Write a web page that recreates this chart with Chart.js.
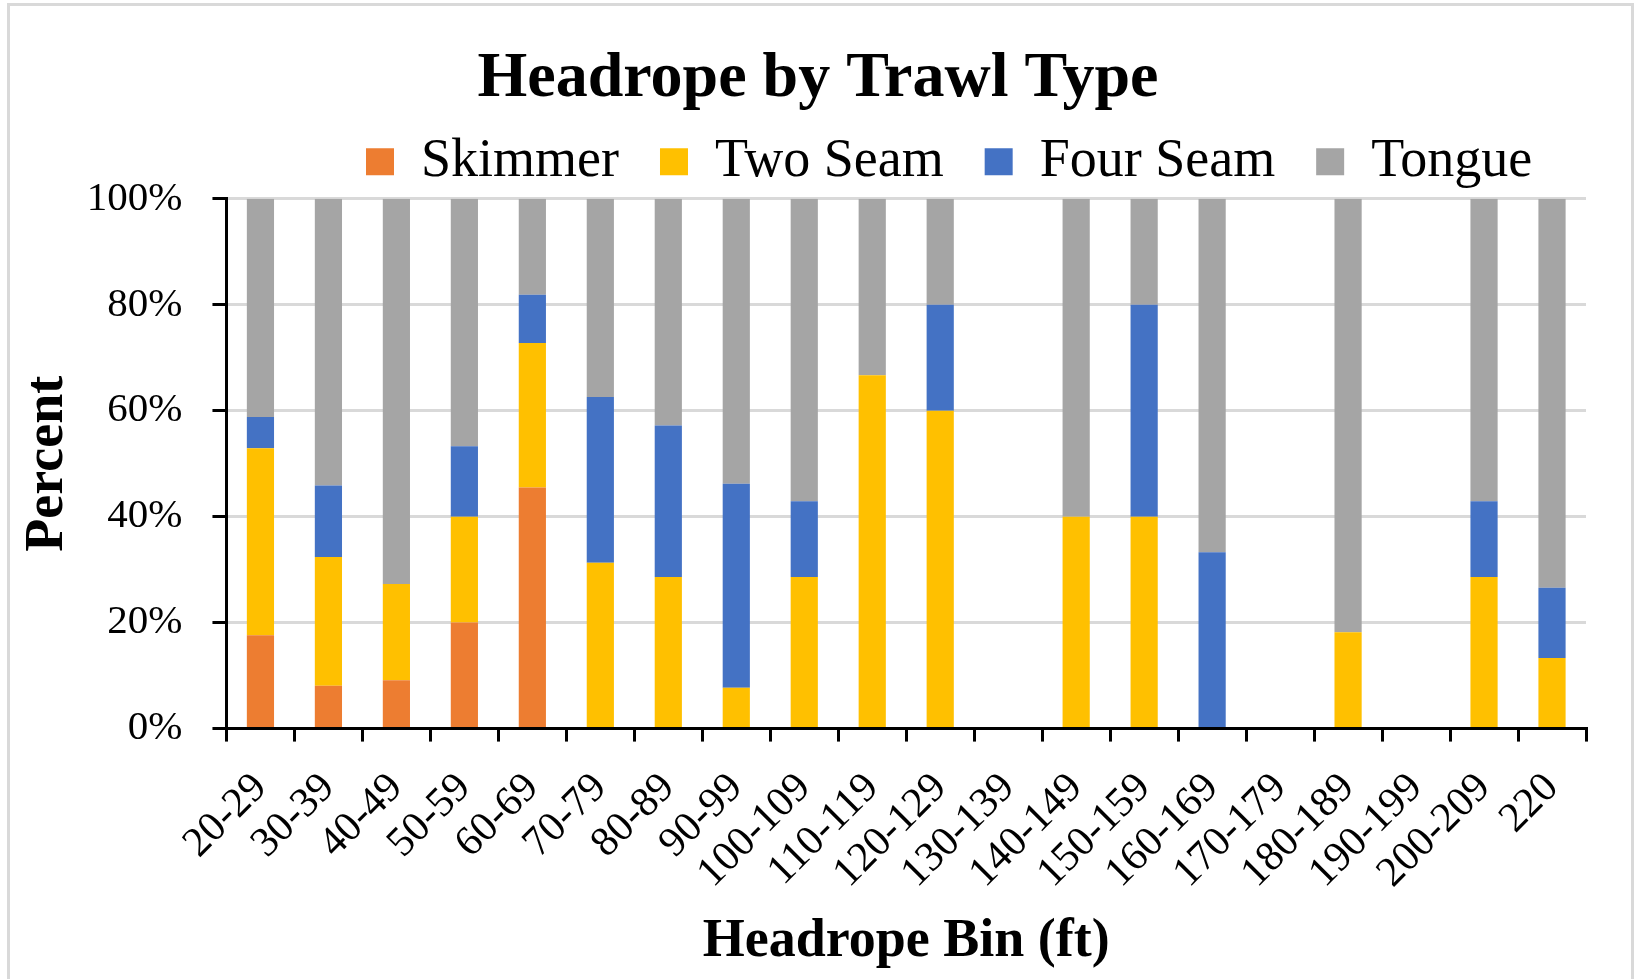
<!DOCTYPE html>
<html>
<head>
<meta charset="utf-8">
<title>Headrope by Trawl Type</title>
<script src="https://cdn.jsdelivr.net/npm/chart.js@4.4.1/dist/chart.umd.min.js"></script>
<style>
  html, body { margin: 0; padding: 0; background: #fff; }
  #frame {
    position: absolute; left: 7px; top: 3px;
    width: 1621px; height: 1000px;
    border: 3px solid #d9d9d9;
  }
  #wrap { position: absolute; left: 0; top: 0; width: 1636px; height: 979px; }
</style>
</head>
<body>
<div id="frame"></div>
<div id="wrap"><canvas id="bar-chart"></canvas></div>
<script>
// stacked 100% bar chart

var bins = ['20-29', '30-39', '40-49', '50-59', '60-69', '70-79', '80-89', '90-99', '100-109', '110-119',
            '120-129', '130-139', '140-149', '150-159', '160-169', '170-179', '180-189', '190-199', '200-209', '220'];

// percent of tows in each bin
var skimmer  = [17.6, 8.1, 9.1, 20, 45.5, 0, 0, 0, 0, 0, 0, 0, 0, 0, 0, 0, 0, 0, 0, 0];
var twoSeam  = [35.3, 24.3, 18.2, 20, 27.3, 31.3, 28.6, 7.7, 28.6, 66.7, 60, 0, 40, 40, 0, 0, 18.2, 0, 28.6, 13.3];
var fourSeam = [5.9, 13.5, 0, 13.3, 9.1, 31.3, 28.6, 38.5, 14.3, 0, 20, 0, 0, 40, 33.3, 0, 0, 0, 14.3, 13.3];
var tongue   = [41.2, 54.1, 72.7, 46.7, 18.1, 37.4, 42.8, 53.8, 57.1, 33.3, 20, 0, 60, 20, 66.7, 0, 81.8, 0, 57.1, 73.4];

var yTicks = [0, 20, 40, 60, 80, 100];

var serif = 'Liberation Serif, Times New Roman, serif';

// excel puts the legend right of centre, so nudge it over
var legendPlacement = {
    id: 'legendPlacement',
    afterLayout: function(chart) {
        var legend = chart.legend;
        legend.left = 366 - legend.options.labels.padding;
    }
};

var ctx = document.getElementById('bar-chart');

var myChart = new Chart(ctx, {
    type: 'bar',
    data: {
        labels: bins,
        datasets: [
            { label: 'Skimmer', data: skimmer, backgroundColor: '#ED7D31', borderWidth: 0 },
            { label: 'Two Seam', data: twoSeam, backgroundColor: '#FFC000', borderWidth: 0 },
            { label: 'Four Seam', data: fourSeam, backgroundColor: '#4472C4', borderWidth: 0 },
            { label: 'Tongue', data: tongue, backgroundColor: '#A5A5A5', borderWidth: 0 }
        ]
    },
    options: {
        responsive: true,
        maintainAspectRatio: false,
        animation: false,
        devicePixelRatio: 1,
        barPercentage: 0.4,
        categoryPercentage: 1,
        plugins: {
            title: {
                display: true,
                text: 'Headrope by Trawl Type',
                color: '#000',
                font: { family: serif, size: 64, weight: 'bold' },
                padding: { top: 41, bottom: -24 }
            },
            legend: {
                position: 'top',
                align: 'start',
                labels: {
                    color: '#000',
                    font: { family: serif, size: 54 },
                    boxWidth: 28,
                    boxHeight: 27,
                    padding: 41
                }
            },
            tooltip: { enabled: false }
        },
        scales: {
            x: {
                stacked: true,
                grid: {
                    display: true,
                    drawOnChartArea: false,
                    tickColor: '#000',
                    tickLength: 13,
                    lineWidth: 3
                },
                border: { color: '#000', width: 3 },
                ticks: {
                    color: '#000',
                    font: { family: serif, size: 42 },
                    minRotation: 45,
                    maxRotation: 45,
                    autoSkip: false,
                    padding: 22,
                    labelOffset: 0
                },
                title: {
                    display: true,
                    text: 'Headrope Bin (ft)',
                    color: '#000',
                    font: { family: serif, size: 54, weight: 'bold' },
                    padding: { top: -11, bottom: 5 }
                },
                afterFit: function(scale) {
                    scale.paddingRight = 50;
                }
            },
            y: {
                stacked: true,
                min: 0,
                max: 100,
                afterBuildTicks: function(scale) {
                    scale.ticks = yTicks.map(function(v) { return { value: v }; });
                },
                grid: {
                    color: '#d9d9d9',
                    lineWidth: 3,
                    tickColor: '#000',
                    tickWidth: 3,
                    tickLength: 14
                },
                border: { color: '#000', width: 3 },
                ticks: {
                    color: '#000',
                    font: { family: serif, size: 41 },
                    padding: 30,
                    callback: function(v) { return v + '%'; }
                },
                title: {
                    display: true,
                    text: 'Percent',
                    color: '#000',
                    font: { family: serif, size: 54, weight: 'bold' },
                    padding: { top: 16, bottom: -24 }
                }
            }
        }
    },
    plugins: [legendPlacement]
});
</script>
</body>
</html>
